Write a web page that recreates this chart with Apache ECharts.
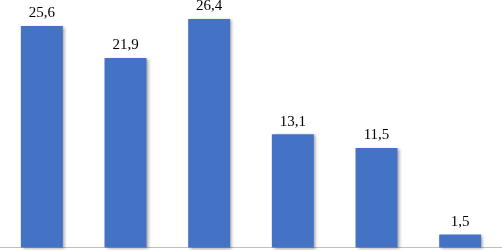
<!DOCTYPE html>
<html><head><meta charset="utf-8">
<script src="https://cdn.jsdelivr.net/npm/echarts@6/dist/echarts.min.js"></script>
<style>html,body{margin:0;padding:0;background:#fff}#c{width:502px;height:250px}</style>
</head><body><div id="c"></div>
<script>
const categories = ['1','2','3','4','5','6'];
const values = [25.6, 21.9, 26.4, 13.1, 11.5, 1.5];

const chart = echarts.init(document.getElementById('c'), null, {renderer:'canvas'});
chart.setOption({
  animation:false,
  grid:{left:0,right:0,top:0,bottom:2.5},
  xAxis:{type:'category',data:categories,
    axisLine:{show:true,lineStyle:{color:'#bfbfbf',width:1}},
    axisTick:{show:false},axisLabel:{show:false}},
  yAxis:{type:'value',min:0,max:28.6,show:false,splitLine:{show:false}},
  series:[{type:'bar',data:values,barWidth:42,
    itemStyle:{color:'#4472C4',shadowColor:'rgba(0,0,0,0.35)',shadowBlur:3,shadowOffsetX:2,shadowOffsetY:1},
    label:{show:true,position:'top',distance:5,color:'#000',fontFamily:'Liberation Serif',fontSize:15,
      formatter:p=>String(p.value).replace('.',',')}}]
});
</script></body></html>
